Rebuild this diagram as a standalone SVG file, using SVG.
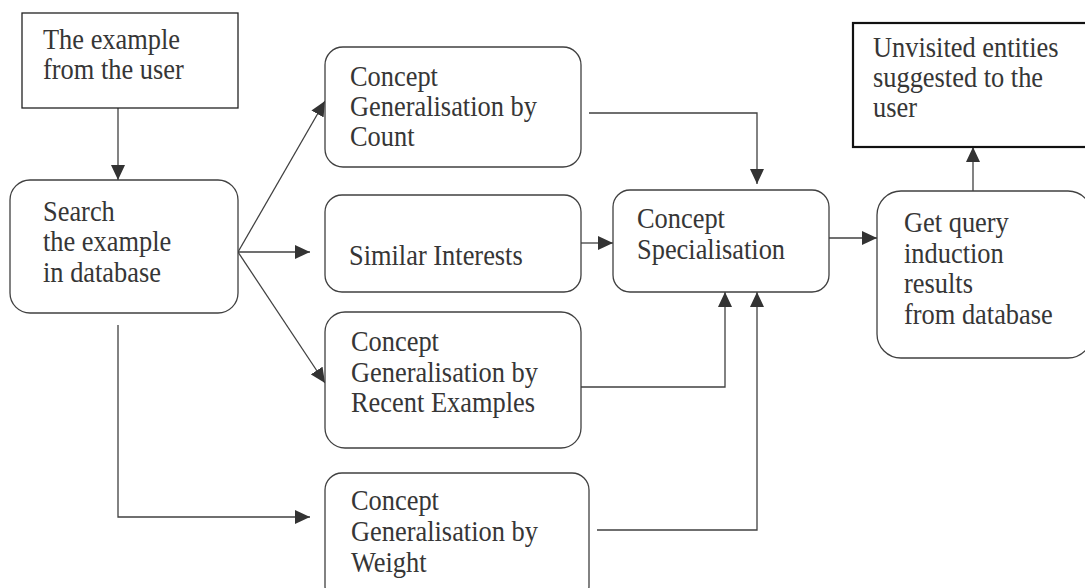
<svg xmlns="http://www.w3.org/2000/svg" width="1085" height="588" viewBox="0 0 1085 588">
  <defs>
    <marker id="arrow" markerUnits="userSpaceOnUse" markerWidth="16" markerHeight="14" refX="15" refY="7" orient="auto">
      <path d="M0,0 L15,7 L0,14 z" fill="#333"/>
    </marker>
    <style>
      rect { fill: #fff; stroke: #404040; stroke-width: 1.3; }
      rect.sharp { stroke: #222; stroke-width: 1.3; }
      rect.bold { stroke: #111; stroke-width: 2.2; }
      text { font-family: "Liberation Serif", "Times New Roman", serif; font-size: 29.5px; fill: #363636; }
      #connectors path { fill: none; stroke: #404040; stroke-width: 1.3; marker-end: url(#arrow); }
    </style>
  </defs>
  <rect x="0" y="0" width="1085" height="588" style="fill:#fff;stroke:none"/>

  <!-- links between steps -->
  <g id="connectors">
    <path d="M118,108 V180"/>
    <path d="M238,252 L325,101"/>
    <path d="M238,252 H310"/>
    <path d="M238,252 L325,383"/>
    <path d="M118,325 V517 H310"/>
    <path d="M589,113 H757 V184"/>
    <path d="M581,243 H613"/>
    <path d="M581,387 H725 V292"/>
    <path d="M597,530 H757 V292"/>
    <path d="M829,238 H877"/>
    <path d="M973,191 V147"/>
  </g>

  <!-- labels are set in a slightly narrowed serif: translate to the left margin, squeeze horizontally -->
  <g id="node-user-example">
    <rect class="sharp" x="22" y="13" width="216" height="95"/>
    <g transform="translate(43 0) scale(0.895 1)">
      <text y="49">The example</text>
      <text y="79">from the user</text>
    </g>
  </g>

  <g id="node-search">
    <rect x="10" y="180" width="228" height="133" rx="20" ry="20"/>
    <g transform="translate(43 0) scale(0.895 1)">
      <text y="221">Search</text>
      <text y="251">the example</text>
      <text y="282">in database</text>
    </g>
  </g>

  <g id="node-count">
    <rect x="325" y="47" width="256" height="120" rx="18" ry="18"/>
    <g transform="translate(350 0) scale(0.895 1)">
      <text y="86">Concept</text>
      <text y="116">Generalisation by</text>
      <text y="146">Count</text>
    </g>
  </g>

  <g id="node-similar">
    <rect x="325" y="195" width="256" height="97" rx="17" ry="17"/>
    <g transform="translate(349 0) scale(0.895 1)">
      <text y="265">Similar Interests</text>
    </g>
  </g>

  <g id="node-recent">
    <rect x="325" y="312" width="256" height="136" rx="20" ry="20"/>
    <g transform="translate(351 0) scale(0.895 1)">
      <text y="351">Concept</text>
      <text y="382">Generalisation by</text>
      <text y="412">Recent Examples</text>
    </g>
  </g>

  <g id="node-weight">
    <rect x="325" y="473" width="264" height="130" rx="17" ry="17"/>
    <g transform="translate(351 0) scale(0.895 1)">
      <text y="510">Concept</text>
      <text y="541">Generalisation by</text>
      <text y="572">Weight</text>
    </g>
  </g>

  <g id="node-specialisation">
    <rect x="613" y="190" width="216" height="102" rx="17" ry="17"/>
    <g transform="translate(637 0) scale(0.895 1)">
      <text y="228">Concept</text>
      <text y="259">Specialisation</text>
    </g>
  </g>

  <g id="node-query">
    <rect x="877" y="191" width="215" height="167" rx="24" ry="24"/>
    <g transform="translate(904 0) scale(0.895 1)">
      <text y="232">Get query</text>
      <text y="263">induction</text>
      <text y="293">results</text>
      <text y="324">from database</text>
    </g>
  </g>

  <g id="node-unvisited">
    <rect class="bold" x="853" y="23" width="240" height="124"/>
    <g transform="translate(873 0) scale(0.895 1)">
      <text y="57">Unvisited entities</text>
      <text y="87">suggested to the</text>
      <text y="117">user</text>
    </g>
  </g>
</svg>
